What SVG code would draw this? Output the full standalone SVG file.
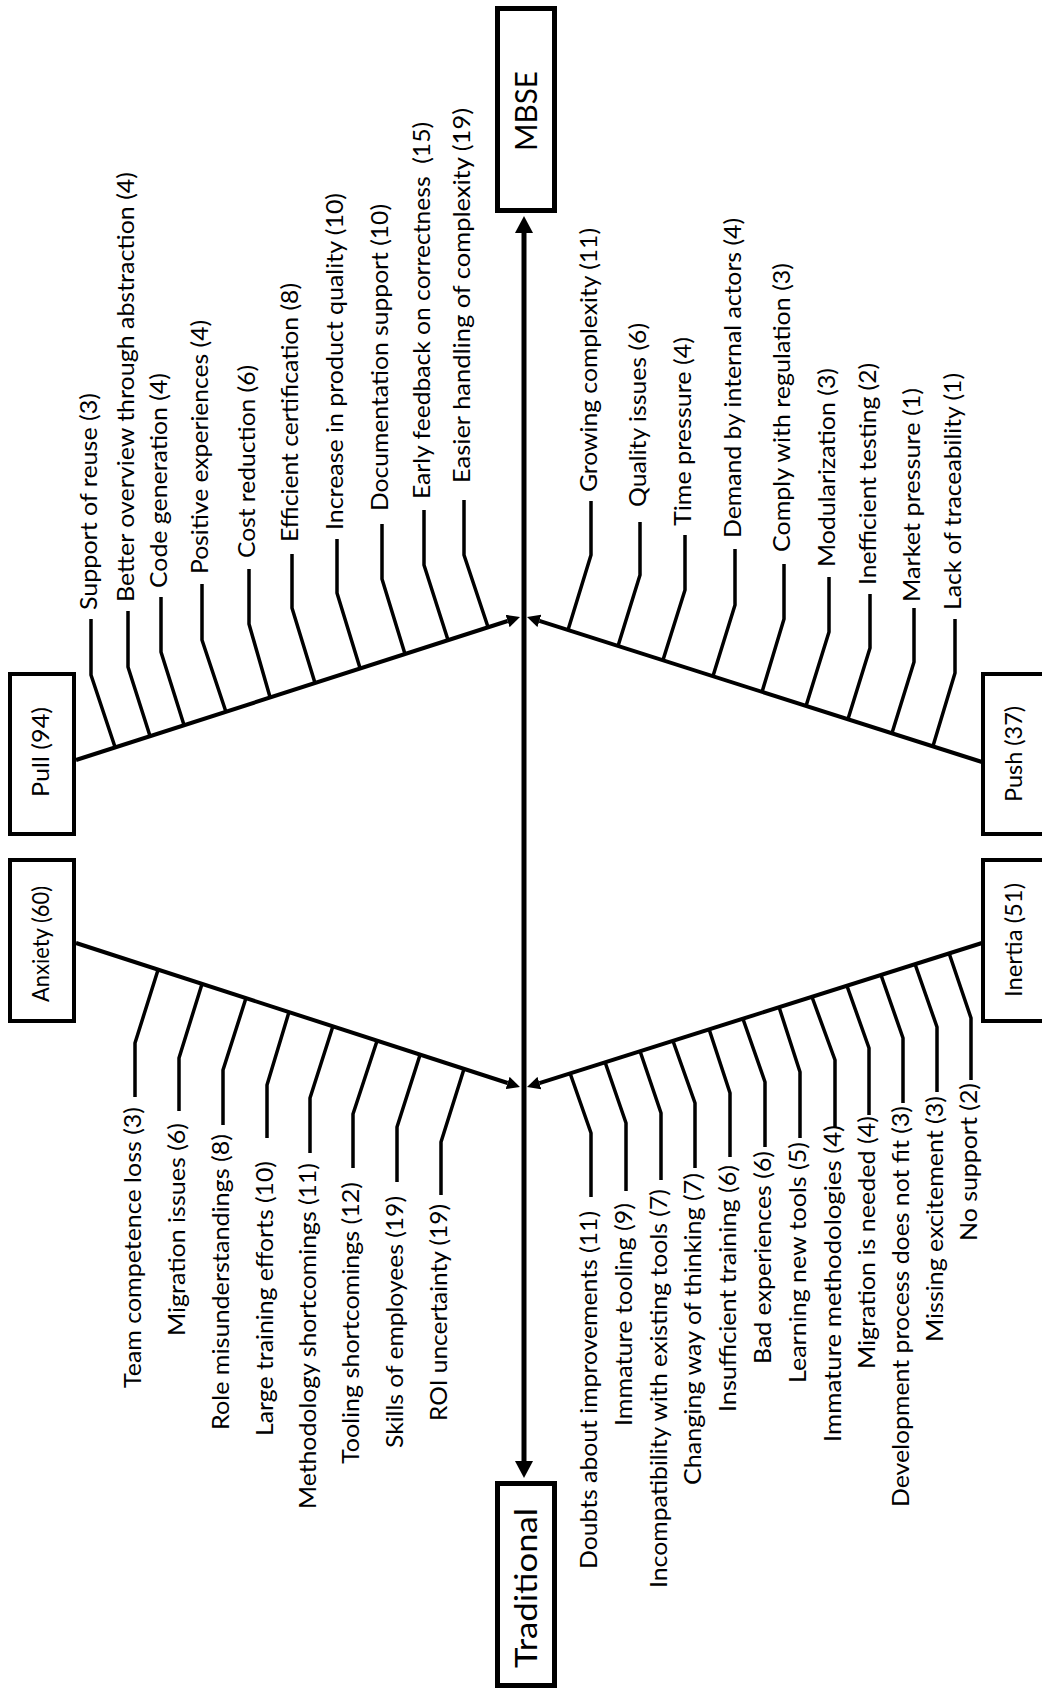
<svg xmlns="http://www.w3.org/2000/svg" width="1042" height="1691" viewBox="0 0 1042 1691">
<style>
text{font-family:Lato,"Liberation Sans",Arial,sans-serif;fill:#000}
.lbl{font-size:24px}
.big{font-size:31px}
.box{fill:#fff;stroke:#000;stroke-width:4}
.bigbox{fill:#fff;stroke:#000;stroke-width:5}
.main{stroke:#000;stroke-width:4;fill:none}
.br{stroke:#000;stroke-width:3.5;fill:none;stroke-linejoin:round}
.axis{stroke:#000;stroke-width:5;fill:none}
</style>
<defs>
<marker id="ah" markerUnits="userSpaceOnUse" markerWidth="17" markerHeight="18" viewBox="0 0 17 18" refX="0" refY="9" orient="auto-start-reverse"><path d="M0,0 L17,9 L0,18 z" fill="#000"/></marker>
<marker id="as" markerUnits="userSpaceOnUse" markerWidth="13" markerHeight="13" viewBox="0 0 13 13" refX="0" refY="6.5" orient="auto"><path d="M0,0 L13,6.5 L0,13 z" fill="#000"/></marker>
</defs>
<rect width="1042" height="1691" fill="#fff"/>

<g id="connectors">
<line class="axis" x1="524" y1="233" x2="524" y2="1461" marker-start="url(#ah)" marker-end="url(#ah)"/>
<line class="main" x1="76" y1="760" x2="507.6" y2="621" marker-end="url(#as)"/>
<line class="main" x1="982" y1="762" x2="539.4" y2="620.9" marker-end="url(#as)"/>
<line class="main" x1="76" y1="943" x2="507.6" y2="1083" marker-end="url(#as)"/>
<line class="main" x1="982" y1="943" x2="539.4" y2="1083.1" marker-end="url(#as)"/>
<!-- pull branches -->
<polyline class="br" points="91,619 91,675 115,747"/>
<polyline class="br" points="128,611 128,667 150,736"/>
<polyline class="br" points="161,597 161,652 184,725"/>
<polyline class="br" points="202,584 202,640 226,712"/>
<polyline class="br" points="249,569 249,624 270,697"/>
<polyline class="br" points="292,554 292,608 315,683"/>
<polyline class="br" points="337,539 337,593 360,668"/>
<polyline class="br" points="382,524 382,579 405,654"/>
<polyline class="br" points="424,510 424,565 448,640"/>
<polyline class="br" points="464,500 464,555 488,627"/>
<!-- push branches -->
<polyline class="br" points="591,501 591,555 568,630"/>
<polyline class="br" points="640,522 640,575 618,646"/>
<polyline class="br" points="685,535 685,590 663,660"/>
<polyline class="br" points="735,549 735,605 713,676"/>
<polyline class="br" points="784,564 784,619 762,692"/>
<polyline class="br" points="829,577 829,632 806,706"/>
<polyline class="br" points="870,594 870,648 848,719"/>
<polyline class="br" points="914,608 914,662 892,733"/>
<polyline class="br" points="955,619 955,673 933,746"/>
<!-- anxiety branches -->
<polyline class="br" points="135,1097 135,1043 158,970"/>
<polyline class="br" points="179,1111 179,1058 202,984"/>
<polyline class="br" points="223,1125 223,1070 246,998"/>
<polyline class="br" points="267,1138 267,1085 289,1012"/>
<polyline class="br" points="310,1153 310,1098 333,1026"/>
<polyline class="br" points="353,1168 353,1114 377,1041"/>
<polyline class="br" points="397,1182 397,1127 420,1055"/>
<polyline class="br" points="441,1195 441,1142 464,1069"/>
<!-- inertia branches -->
<polyline class="br" points="591,1197 591,1133 570,1073"/>
<polyline class="br" points="626,1191 626,1123 605,1062"/>
<polyline class="br" points="661,1180 661,1113 640,1051"/>
<polyline class="br" points="695,1168 695,1103 673,1041"/>
<polyline class="br" points="730,1157 730,1093 709,1029"/>
<polyline class="br" points="765,1147 765,1082 743,1019"/>
<polyline class="br" points="800,1138 800,1072 779,1007"/>
<polyline class="br" points="835,1127 835,1060 812,997"/>
<polyline class="br" points="869,1115 869,1048 847,986"/>
<polyline class="br" points="903,1103 903,1038 881,975"/>
<polyline class="br" points="937,1092 937,1027 915,964"/>
<polyline class="br" points="971,1080 971,1018 949,953"/>
</g>

<g id="mbse"><rect class="bigbox" x="497.5" y="8.5" width="57" height="202"/><text class="big" text-anchor="middle" textLength="80" lengthAdjust="spacingAndGlyphs" transform="translate(537,111) rotate(-90)">MBSE</text></g>
<g id="traditional"><rect class="bigbox" x="497.5" y="1483.5" width="57" height="202"/><text class="big" text-anchor="middle" textLength="160" lengthAdjust="spacingAndGlyphs" transform="translate(537,1588) rotate(-90)">Traditional</text></g>
<g id="pull"><rect class="box" x="10" y="674" width="64" height="160"/><text class="lbl" text-anchor="middle" textLength="90" lengthAdjust="spacingAndGlyphs" transform="translate(49,752) rotate(-90)">Pull (94)</text></g>
<g id="push"><rect class="box" x="983" y="674" width="64" height="160"/><text class="lbl" text-anchor="middle" textLength="96" lengthAdjust="spacingAndGlyphs" transform="translate(1022,754) rotate(-90)">Push (37)</text></g>
<g id="anxiety"><rect class="box" x="10" y="860" width="64" height="161"/><text class="lbl" text-anchor="middle" textLength="116" lengthAdjust="spacingAndGlyphs" transform="translate(49,944) rotate(-90)">Anxiety (60)</text></g>
<g id="inertia"><rect class="box" x="983" y="860" width="64" height="161"/><text class="lbl" text-anchor="middle" textLength="114" lengthAdjust="spacingAndGlyphs" transform="translate(1022,940) rotate(-90)">Inertia (51)</text></g>

<g id="pull-factors">
<g id="pf1"><text class="lbl" textLength="217" lengthAdjust="spacingAndGlyphs" transform="translate(97,610) rotate(-90)">Support of reuse (3)</text></g>
<g id="pf2"><text class="lbl" textLength="430" lengthAdjust="spacingAndGlyphs" transform="translate(134,602) rotate(-90)">Better overview through abstraction (4)</text></g>
<g id="pf3"><text class="lbl" textLength="215" lengthAdjust="spacingAndGlyphs" transform="translate(167,588) rotate(-90)">Code generation (4)</text></g>
<g id="pf4"><text class="lbl" textLength="254" lengthAdjust="spacingAndGlyphs" transform="translate(208,574) rotate(-90)">Positive experiences (4)</text></g>
<g id="pf5"><text class="lbl" textLength="193" lengthAdjust="spacingAndGlyphs" transform="translate(255,558) rotate(-90)">Cost reduction (6)</text></g>
<g id="pf6"><text class="lbl" textLength="259" lengthAdjust="spacingAndGlyphs" transform="translate(298,542) rotate(-90)">Efficient certification (8)</text></g>
<g id="pf7"><text class="lbl" textLength="337" lengthAdjust="spacingAndGlyphs" transform="translate(343,530) rotate(-90)">Increase in product quality (10)</text></g>
<g id="pf8"><text class="lbl" textLength="307" lengthAdjust="spacingAndGlyphs" transform="translate(388,511) rotate(-90)">Documentation support (10)</text></g>
<g id="pf9"><text class="lbl" textLength="377" lengthAdjust="spacingAndGlyphs" style="white-space:pre" transform="translate(430,499) rotate(-90)">Early feedback on correctness  (15)</text></g>
<g id="pf10"><text class="lbl" textLength="375" lengthAdjust="spacingAndGlyphs" transform="translate(470,483) rotate(-90)">Easier handling of complexity (19)</text></g>
</g>

<g id="push-factors">
<g id="sf1"><text class="lbl" textLength="264" lengthAdjust="spacingAndGlyphs" transform="translate(597,492) rotate(-90)">Growing complexity (11)</text></g>
<g id="sf2"><text class="lbl" textLength="184" lengthAdjust="spacingAndGlyphs" transform="translate(646,507) rotate(-90)">Quality issues (6)</text></g>
<g id="sf3"><text class="lbl" textLength="189" lengthAdjust="spacingAndGlyphs" transform="translate(691,526) rotate(-90)">Time pressure (4)</text></g>
<g id="sf4"><text class="lbl" textLength="320" lengthAdjust="spacingAndGlyphs" transform="translate(741,538) rotate(-90)">Demand by internal actors (4)</text></g>
<g id="sf5"><text class="lbl" textLength="289" lengthAdjust="spacingAndGlyphs" transform="translate(790,552) rotate(-90)">Comply with regulation (3)</text></g>
<g id="sf6"><text class="lbl" textLength="199" lengthAdjust="spacingAndGlyphs" transform="translate(835,567) rotate(-90)">Modularization (3)</text></g>
<g id="sf7"><text class="lbl" textLength="222" lengthAdjust="spacingAndGlyphs" transform="translate(876,585) rotate(-90)">Inefficient testing (2)</text></g>
<g id="sf8"><text class="lbl" textLength="214" lengthAdjust="spacingAndGlyphs" transform="translate(920,602) rotate(-90)">Market pressure (1)</text></g>
<g id="sf9"><text class="lbl" textLength="237" lengthAdjust="spacingAndGlyphs" transform="translate(961,610) rotate(-90)">Lack of traceability (1)</text></g>
</g>

<g id="anxiety-factors">
<g id="af1"><text class="lbl" textLength="281" lengthAdjust="spacingAndGlyphs" transform="translate(141,1388) rotate(-90)">Team competence loss (3)</text></g>
<g id="af2"><text class="lbl" textLength="213" lengthAdjust="spacingAndGlyphs" transform="translate(185,1336) rotate(-90)">Migration issues (6)</text></g>
<g id="af3"><text class="lbl" textLength="296" lengthAdjust="spacingAndGlyphs" transform="translate(229,1430) rotate(-90)">Role misunderstandings (8)</text></g>
<g id="af4"><text class="lbl" textLength="275" lengthAdjust="spacingAndGlyphs" transform="translate(273,1436) rotate(-90)">Large training efforts (10)</text></g>
<g id="af5"><text class="lbl" textLength="346" lengthAdjust="spacingAndGlyphs" transform="translate(316,1509) rotate(-90)">Methodology shortcomings (11)</text></g>
<g id="af6"><text class="lbl" textLength="282" lengthAdjust="spacingAndGlyphs" transform="translate(359,1464) rotate(-90)">Tooling shortcomings (12)</text></g>
<g id="af7"><text class="lbl" textLength="252" lengthAdjust="spacingAndGlyphs" transform="translate(403,1448) rotate(-90)">Skills of employees (19)</text></g>
<g id="af8"><text class="lbl" textLength="217" lengthAdjust="spacingAndGlyphs" transform="translate(447,1421) rotate(-90)">ROI uncertainty (19)</text></g>
</g>

<g id="inertia-factors">
<g id="if1"><text class="lbl" textLength="358" lengthAdjust="spacingAndGlyphs" transform="translate(597,1569) rotate(-90)">Doubts about improvements (11)</text></g>
<g id="if2"><text class="lbl" textLength="223" lengthAdjust="spacingAndGlyphs" transform="translate(632,1426) rotate(-90)">Immature tooling (9)</text></g>
<g id="if3"><text class="lbl" textLength="399" lengthAdjust="spacingAndGlyphs" transform="translate(667,1588) rotate(-90)">Incompatibility with existing tools (7)</text></g>
<g id="if4"><text class="lbl" textLength="312" lengthAdjust="spacingAndGlyphs" transform="translate(701,1485) rotate(-90)">Changing way of thinking (7)</text></g>
<g id="if5"><text class="lbl" textLength="247" lengthAdjust="spacingAndGlyphs" transform="translate(736,1412) rotate(-90)">Insufficient training (6)</text></g>
<g id="if6"><text class="lbl" textLength="213" lengthAdjust="spacingAndGlyphs" transform="translate(771,1364) rotate(-90)">Bad experiences (6)</text></g>
<g id="if7"><text class="lbl" textLength="241" lengthAdjust="spacingAndGlyphs" transform="translate(806,1383) rotate(-90)">Learning new tools (5)</text></g>
<g id="if8"><text class="lbl" textLength="317" lengthAdjust="spacingAndGlyphs" transform="translate(841,1442) rotate(-90)">Immature methodologies (4)</text></g>
<g id="if9"><text class="lbl" textLength="253" lengthAdjust="spacingAndGlyphs" transform="translate(875,1369) rotate(-90)">Migration is needed (4)</text></g>
<g id="if10"><text class="lbl" textLength="401" lengthAdjust="spacingAndGlyphs" transform="translate(909,1507) rotate(-90)">Development process does not fit (3)</text></g>
<g id="if11"><text class="lbl" textLength="246" lengthAdjust="spacingAndGlyphs" transform="translate(943,1342) rotate(-90)">Missing excitement (3)</text></g>
<g id="if12"><text class="lbl" textLength="158" lengthAdjust="spacingAndGlyphs" transform="translate(977,1241) rotate(-90)">No support (2)</text></g>
</g>
</svg>
